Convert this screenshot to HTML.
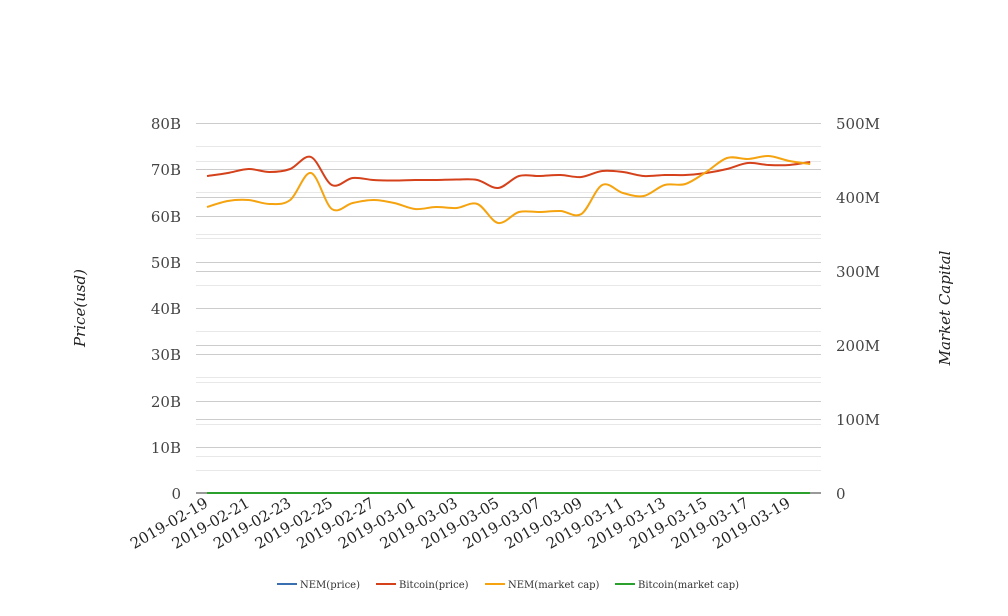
<!DOCTYPE html>
<html><head><meta charset="utf-8"><style>
html,body{margin:0;padding:0;background:#fff;}
svg{display:block;font-family:"DejaVu Serif","Liberation Serif",serif;}
</style></head><body>
<svg id="s" width="1008" height="616" xmlns="http://www.w3.org/2000/svg">
<g id="grid"></g>
<g font-size="15" fill="#444">
<text x="181" y="129" text-anchor="end">80B</text>
<text x="181" y="175" text-anchor="end">70B</text>
<text x="181" y="222" text-anchor="end">60B</text>
<text x="181" y="268" text-anchor="end">50B</text>
<text x="181" y="314" text-anchor="end">40B</text>
<text x="181" y="360" text-anchor="end">30B</text>
<text x="181" y="407" text-anchor="end">20B</text>
<text x="181" y="453" text-anchor="end">10B</text>
<text x="181" y="499" text-anchor="end">0</text>
<text x="836" y="129">500M</text>
<text x="836" y="203">400M</text>
<text x="836" y="277">300M</text>
<text x="836" y="351">200M</text>
<text x="836" y="425">100M</text>
<text x="836" y="499">0</text>
</g>
<text transform="translate(85,308) rotate(-90)" text-anchor="middle" font-size="15" font-style="italic" fill="#222">Price(usd)</text>
<text transform="translate(950,308) rotate(-90)" text-anchor="middle" font-size="15" font-style="italic" fill="#222">Market Capital</text>
<line x1="196" y1="493" x2="821" y2="493" stroke="#333" stroke-width="1"/>
<g id="xl" font-size="15" fill="#222"></g>
<path id="btc" fill="none" stroke="#d4411b" stroke-width="2"/>
<path id="nem" fill="none" stroke="#f5a30f" stroke-width="2"/>
<line x1="207" y1="493" x2="810" y2="493" stroke="#2ca02c" stroke-width="2"/>
<g font-size="10" fill="#333">
<line x1="277" y1="584" x2="297" y2="584" stroke="#3a6fb0" stroke-width="2"/><text x="300" y="588">NEM(price)</text>
<line x1="376" y1="584" x2="396" y2="584" stroke="#d4411b" stroke-width="2"/><text x="399" y="588">Bitcoin(price)</text>
<line x1="485" y1="584" x2="505" y2="584" stroke="#f5a30f" stroke-width="2"/><text x="508" y="588">NEM(market cap)</text>
<line x1="615" y1="584" x2="635" y2="584" stroke="#2ca02c" stroke-width="2"/><text x="638" y="588">Bitcoin(market cap)</text>
</g>
</svg>
<script>
var ns="http://www.w3.org/2000/svg";
function el(p,t,a){var e=document.createElementNS(ns,t);for(var k in a)e.setAttribute(k,a[k]);p.appendChild(e);return e;}
var g=document.getElementById("grid");
var light=[146,161,192,234,238,285,308,331,377,382,424,456,470];
var dark=[123,169,197,216,262,271,308,345,354,401,419,447];
light.forEach(function(y){el(g,"line",{x1:196,x2:821,y1:y+.5,y2:y+.5,stroke:"#e8e8e8"});});
dark.forEach(function(y){el(g,"line",{x1:196,x2:821,y1:y+.5,y2:y+.5,stroke:"#cccccc"});});
var xl=document.getElementById("xl");
var dates=["2019-02-19","2019-02-21","2019-02-23","2019-02-25","2019-02-27","2019-03-01","2019-03-03","2019-03-05","2019-03-07","2019-03-09","2019-03-11","2019-03-13","2019-03-15","2019-03-17","2019-03-19"];
dates.forEach(function(d,i){var x=209+41.6*i;var t=el(xl,"text",{transform:"translate("+x+",506) rotate(-30)","text-anchor":"end"});t.textContent=d;});
var btc=[176,173,169,172,169,157,185,178,180,180.5,180,180,179.5,180,188,176,176,175,177,171,172,176,175,175,173,169,163,165,165,162];
var nem=[207,201,200,204,200,173,209,203,200,203,209,207,208,204,223,212,212,211,214,185,193,196,185,184,172,158,159,156,161,164];
function path(ys){var p=ys.map(function(y,i){return [207+20.8*i,y];});var d="M"+p[0][0]+","+p[0][1];
for(var i=0;i<p.length-1;i++){var p0=p[i-1]||p[i],p1=p[i],p2=p[i+1],p3=p[i+2]||p2;
var c1=[p1[0]+(p2[0]-p0[0])/6,p1[1]+(p2[1]-p0[1])/6],c2=[p2[0]-(p3[0]-p1[0])/6,p2[1]-(p3[1]-p1[1])/6];
d+=" C"+c1[0].toFixed(1)+","+c1[1].toFixed(1)+" "+c2[0].toFixed(1)+","+c2[1].toFixed(1)+" "+p2[0].toFixed(1)+","+p2[1];}
return d;}
document.getElementById("btc").setAttribute("d",path(btc));
document.getElementById("nem").setAttribute("d",path(nem));
</script>
</body></html>
